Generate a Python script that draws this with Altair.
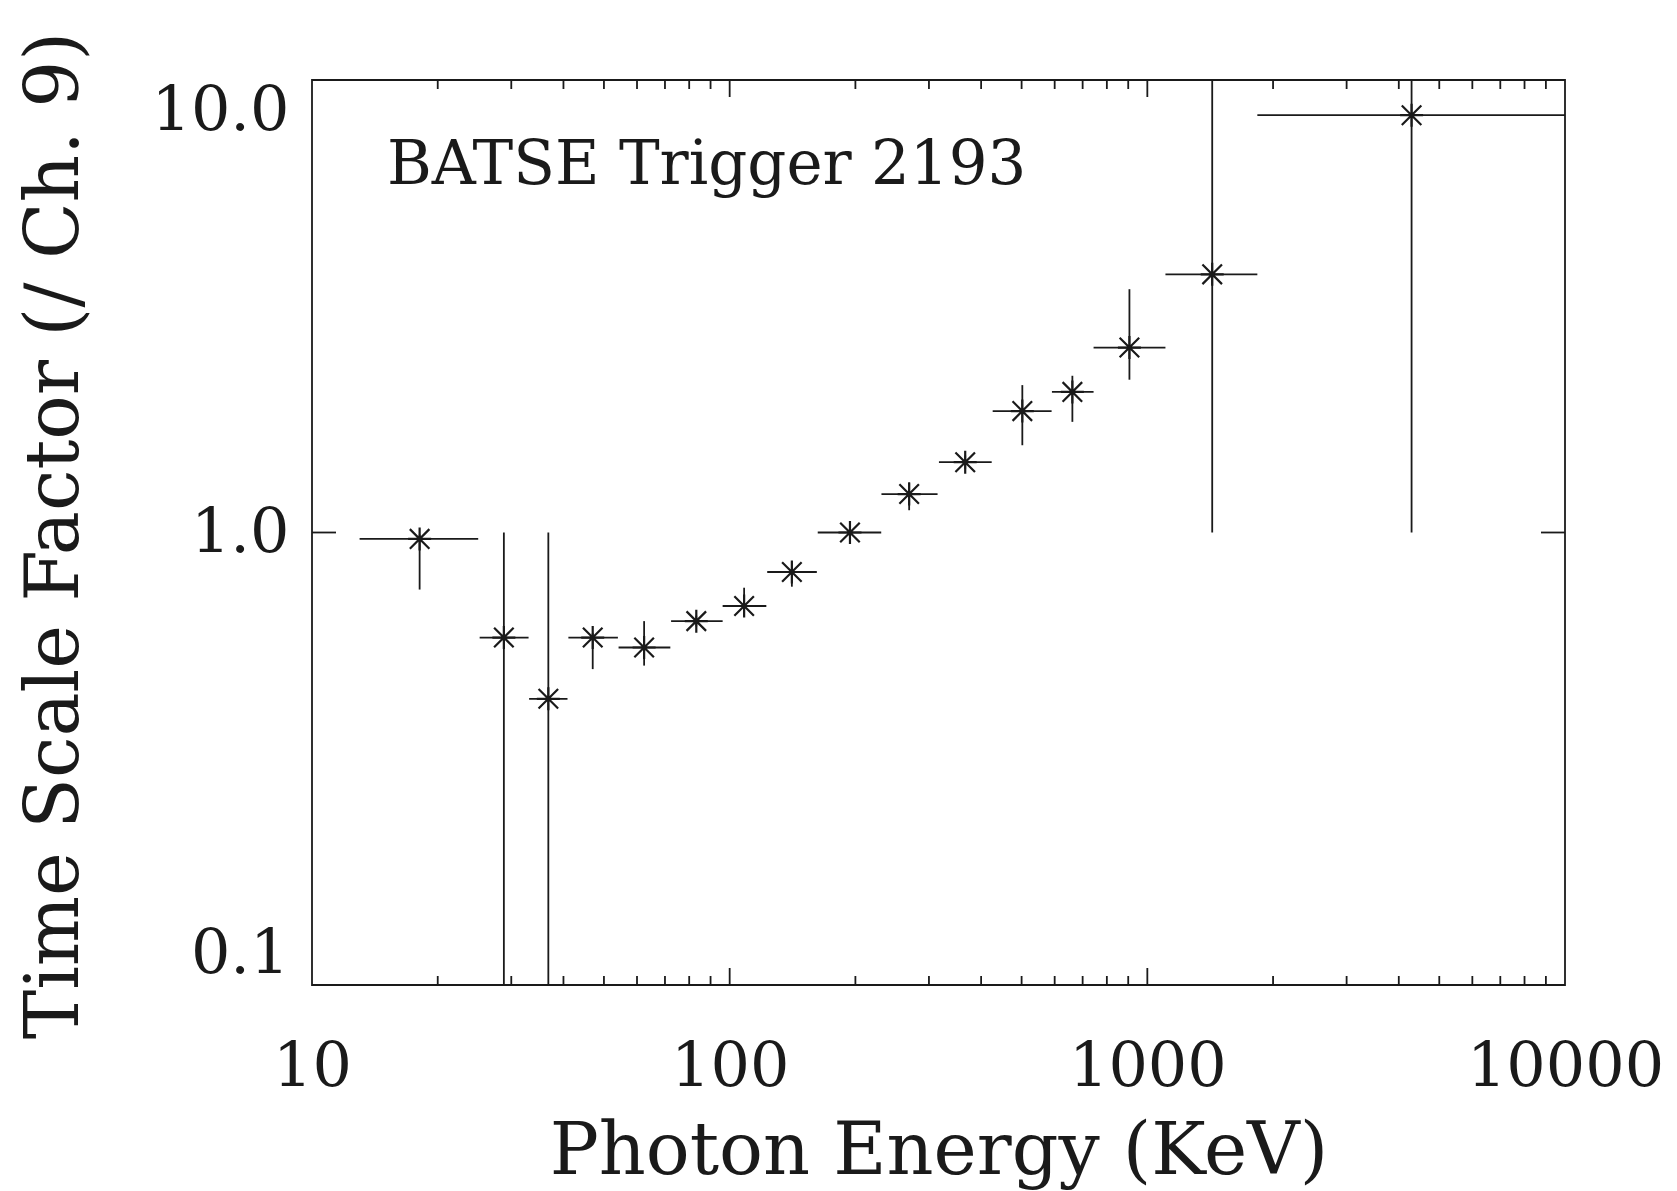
import altair as alt
import pandas as pd

# ---- data ----
energy = [18.1, 28.8, 36.8, 47.0, 62.4, 83.2, 108.3, 140.9, 194.1, 269.0, 366.4, 502.0, 661.5, 906.0, 1430.0, 4292.0]
e_lo   = [13.0, 25.2, 33.1, 41.1, 54.2, 72.4, 96.2, 123.0, 162.5, 230.9, 317.0, 426.3, 591.0, 743.5, 1105.0, 1834.0]
e_hi   = [25.0, 33.0, 40.9, 54.0, 72.1, 96.2, 122.4, 161.7, 230.6, 314.6, 424.0, 589.9, 743.5, 1105.0, 1834.0, 10000.0]
factor = [0.968, 0.586, 0.429, 0.586, 0.557, 0.637, 0.688, 0.818, 1.0, 1.216, 1.43, 1.855, 2.045, 2.563, 3.72, 8.36]
f_lo   = [0.748, 0.1, 0.1, 0.499, 0.508, 0.62, 0.655, 0.759, 0.97, 1.12, 1.38, 1.559, 1.756, 2.176, 1.0, 1.0]
f_hi   = [0.99, 1.0, 1.0, 0.60, 0.637, 0.655, 0.755, 0.863, 1.03, 1.29, 1.48, 2.117, 2.22, 3.449, 10.0, 10.0]

x_tick_labels = [10, 100, 1000, 10000]
y_tick_labels = [0.1, 1.0, 10.0]
x_major_ticks = [100, 1000]
x_minor_ticks = [20, 30, 40, 50, 60, 70, 80, 90,
                 200, 300, 400, 500, 600, 700, 800, 900,
                 2000, 3000, 4000, 5000, 6000, 7000, 8000, 9000]
y_major_ticks = [1.0]
annotation = ["BATSE Trigger 2193"]
x_title = "Photon Energy (KeV)"
y_title = "Time Scale Factor (/ Ch. 9)"

df = pd.DataFrame(dict(energy=energy, e_lo=e_lo, e_hi=e_hi,
                       factor=factor, f_lo=f_lo, f_hi=f_hi))

W, H = 1253, 905
FONT = "DejaVu Serif"
INK = "#1a1a1a"
LW = 1.8
STAR = "M0,-1L0,1M-1,0L1,0M-0.85,-0.85L0.85,0.85M-0.85,0.85L0.85,-0.85"

xscale = alt.Scale(type="log", domain=[10, 10000], nice=False)
yscale = alt.Scale(type="log", domain=[0.1, 10], nice=False)

xaxis = alt.Axis(values=x_tick_labels, format="d", title=x_title,
                 ticks=False, domain=False, grid=False,
                 labelFont=FONT, labelFontSize=62, labelColor=INK,
                 labelPadding=100, labelBaseline="alphabetic",
                 labelFlush=False, labelOverlap=False, labelLimit=0,
                 titleFont=FONT, titleFontSize=73, titleFontWeight="normal",
                 titleColor=INK, titleY=188, titleBaseline="alphabetic",
                 titleLimit=0)
yaxis = alt.Axis(values=y_tick_labels, format=".1f", title=y_title,
                 ticks=False, domain=False, grid=False,
                 labelFont=FONT, labelFontSize=62, labelColor=INK,
                 labelPadding=23, labelFlush=True, labelOverlap=False, labelLimit=0,
                 titleFont=FONT, titleFontSize=74, titleFontWeight="normal",
                 titleColor=INK, titleAngle=270, titleX=-235, titleY=455,
                 titleAlign="center", titleBaseline="alphabetic", titleLimit=0)


def X(field):
    return alt.X(field, scale=xscale, axis=xaxis, title=x_title)


def Y(field):
    return alt.Y(field, scale=yscale, axis=yaxis, title=y_title)


base = alt.Chart(df)

hbars = base.mark_rule(color=INK, strokeWidth=LW).encode(
    x=X("e_lo:Q"), x2="e_hi:Q", y=Y("factor:Q"))
vbars = base.mark_rule(color=INK, strokeWidth=LW).encode(
    x=X("energy:Q"), y=Y("f_lo:Q"), y2="f_hi:Q")
stars = base.mark_point(shape=STAR, size=529, strokeWidth=2.2, color=INK,
                        filled=False, opacity=1).encode(
    x=X("energy:Q"), y=Y("factor:Q"))
dots = base.mark_circle(size=22, color=INK, opacity=1).encode(
    x=X("energy:Q"), y=Y("factor:Q"))

xmaj = pd.DataFrame({"v": x_major_ticks})
xmin = pd.DataFrame({"v": x_minor_ticks})
ymaj = pd.DataFrame({"v": y_major_ticks})


def xticks(data, length):
    bot = alt.Chart(data).mark_rule(color=INK, strokeWidth=LW).encode(
        x=X("v:Q"), y=alt.value(H), y2=alt.value(H - length))
    top = alt.Chart(data).mark_rule(color=INK, strokeWidth=LW).encode(
        x=X("v:Q"), y=alt.value(0), y2=alt.value(length))
    return [bot, top]


ytick_l = alt.Chart(ymaj).mark_rule(color=INK, strokeWidth=LW).encode(
    y=Y("v:Q"), x=alt.value(0), x2=alt.value(24))
ytick_r = alt.Chart(ymaj).mark_rule(color=INK, strokeWidth=LW).encode(
    y=Y("v:Q"), x=alt.value(W - 24), x2=alt.value(W))

label = alt.Chart(pd.DataFrame({"t": annotation})).mark_text(
    align="left", baseline="alphabetic", font=FONT, fontSize=61, color=INK
).encode(x=alt.value(75), y=alt.value(104), text="t:N")

chart = alt.layer(
    hbars, vbars, stars, dots, *xticks(xmaj, 17), *xticks(xmin, 9), ytick_l, ytick_r, label
).properties(
    width=W, height=H,
    autosize=alt.AutoSizeParams(type="none"),
    padding={"left": 304, "top": 72, "right": 100, "bottom": 205},
    background="white",
).configure_view(stroke=INK, strokeWidth=LW)

chart.save("out.html", embed_options={"renderer": "svg", "actions": False})
